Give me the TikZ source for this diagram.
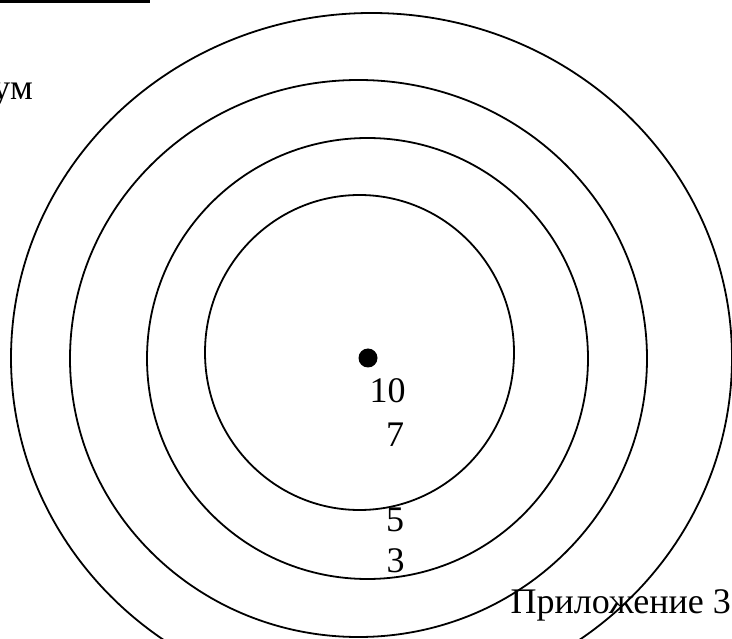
\documentclass[tikz,border=0pt]{standalone}
\usepackage{fontspec}
\setmainfont{Liberation Serif}
\usetikzlibrary{positioning}

\tikzset{
  ring/.style={draw=black, line width=1.8pt},
  ringlabel/.style={inner sep=0pt, font=\fontsize{36}{40}\selectfont},
}

\begin{document}
\begin{tikzpicture}[x=1pt, y=-1pt]
  \useasboundingbox (0,0) rectangle (732,639);
  % cut-off heading
  \draw[line width=2.5pt] (0,1.5) -- (150,1.5);
  \node[ringlabel, anchor=base east] (cut) at (33,100) {ум};
  % rings
  \draw[ring] (359.5,352.5) ellipse [x radius=154.5pt, y radius=157.5pt];
  \draw[ring] (367.5,358.5) ellipse [x radius=220.5pt, y radius=220.5pt];
  \draw[ring] (358.5,358.5) ellipse [x radius=288.5pt, y radius=278.5pt];
  \draw[ring] (371.5,358) ellipse [x radius=360.5pt, y radius=345pt];
  % centre
  \node[circle, fill=black, inner sep=0pt, minimum size=19pt] (dot) at (368,358) {};
  % scores
  \node[ringlabel] (lab10) at (387.5,390.5) {10};
  \node[ringlabel] (lab7) at (395,434.5) {7};
  \node[ringlabel] (lab5) at (395,520) {5};
  \node[ringlabel] (lab3) at (395.5,560.5) {3};
  % annotation
  \node[ringlabel, anchor=base east] (appx) at (731,613) {Приложение 3};
\end{tikzpicture}
\end{document}
